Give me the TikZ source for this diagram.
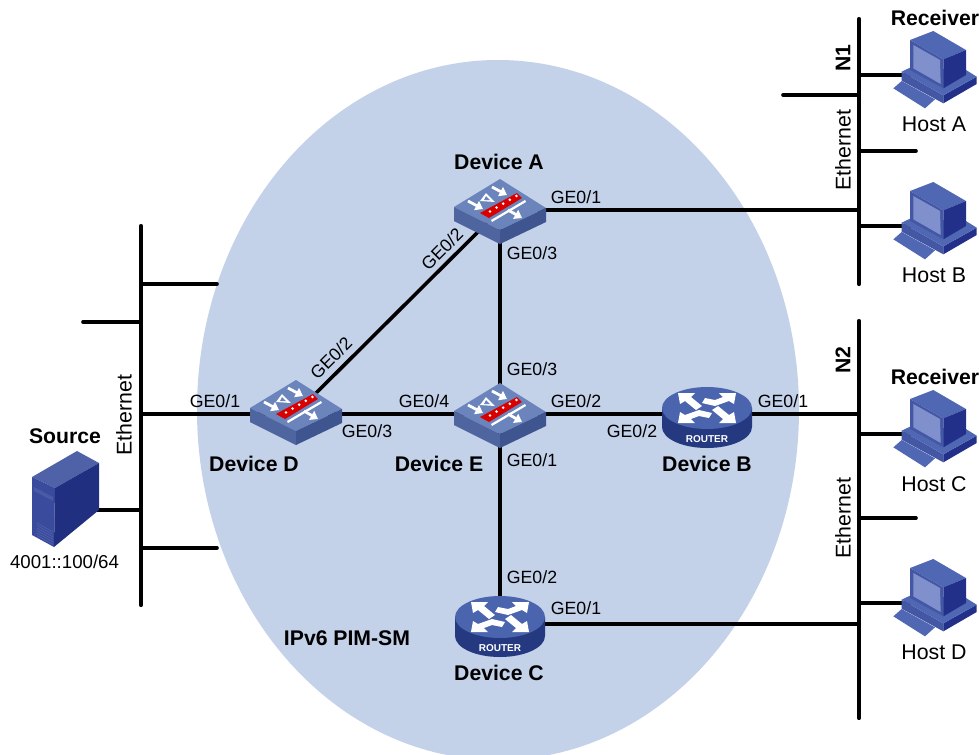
\documentclass[tikz,border=0pt]{standalone}
\usepackage{fontspec}
\setmainfont{Liberation Sans}
\usetikzlibrary{arrows.meta}
\definecolor{swtop}{HTML}{6B84BC}
\definecolor{swleft}{HTML}{4F659F}
\definecolor{swright}{HTML}{3F5590}
\definecolor{rttop}{HTML}{4A64AE}
\definecolor{rtside}{HTML}{24397F}
\definecolor{hostmid}{HTML}{4357A4}
\definecolor{hostdeep}{HTML}{22308A}
\definecolor{hostlight}{HTML}{5068B4}
\definecolor{hostscreen}{HTML}{7F90CC}
\definecolor{srvfront}{HTML}{3A4A9C}
\definecolor{srvside}{HTML}{212F80}
\definecolor{srvtop}{HTML}{4F62A8}
\definecolor{cloudblue}{HTML}{C3D1E9}
\tikzset{
  x=0.75pt,y=-0.75pt,
  bus/.style={line width=3.1pt,black,line cap=round},
  wire/.style={line width=2.7pt,black,line cap=round},
  lab/.style={font=\fontsize{13.3}{15}\selectfont,inner sep=0pt,text=black},
  biglab/.style={font=\fontsize{16}{18}\selectfont,inner sep=0pt,text=black},
  addrlab/.style={font=\fontsize{14}{16}\selectfont,inner sep=0pt,text=black},
  devname/.style={font=\bfseries\fontsize{15.9}{18}\selectfont,inner sep=0pt,text=black},
  anchorbox/.style={inner sep=0pt,minimum width=69pt,minimum height=45pt},
  swarrow/.style={white,line width=2.1pt,-{Triangle[length=5.5pt,width=7.5pt]}},
  pics/switchicon/.style={code={
    \fill[swtop] (0,-29)--(46,0)--(0,22)--(-46,-1)--cycle;
    \fill[swleft] (-46,-1)--(0,22)--(0,36)--(-46,13)--cycle;
    \fill[swright] (46,0)--(0,22)--(0,36)--(46,14)--cycle;
    \fill[red!85!black] (-20,5)--(17,-15)--(22,-10)--(-11,10)--cycle;
    \foreach \i in {0,...,4}{\fill[white] (-10+\i*6.6,3.5-\i*3.9) circle[radius=1.1pt];}
    \fill[white] (-9,12)--(25,-8)--(26,-6)--(-8,14)--cycle;
    \draw[swarrow] (-32,-7)--(-17,1);
    \draw[swarrow] (-8,-21)--(7,-13);
    \draw[swarrow] (8,2)--(22,10);
    \fill[white] (-20,-7)--(-14,-15)--(-5,-6)--cycle;
    \fill[swtop] (-16,-8)--(-14,-12)--(-10,-8)--cycle;
  }},
  pics/routericon/.style={code={
    \fill[rtside] (-45,0)--(-45,19) arc[start angle=180,end angle=0,x radius=45,y radius=21]--(45,0)--cycle;
    \fill[rttop] (0,0) ellipse[x radius=45,y radius=21];
    \node[font=\bfseries\fontsize{7.5}{8}\selectfont,text=white,inner sep=0pt] (#1) at (0,31) {ROUTER};
    \foreach \s in {1,-1}{
      \begin{scope}[xscale=\s,yscale=\s]
        \fill[white] (-29,-15)--(-12,-15)--(-16,-11)--(-5,-2)--(-11,2)--(-22,-7)--(-27,-4)--cycle;
        \fill[white] (29,-15)--(12,-15)--(16,-11)--(8,-8)--(-2,-10)--(-5,-5)--(8,-2)--(22,-7)--(27,-4)--cycle;
      \end{scope}}
  }},
  pics/hosticon/.style={code={
    \begin{scope}[x=0.25pt,y=-0.25pt,shift={(-135,-165)}]
      \fill[hostlight] (40,205)--(65,183)--(165,238)--(135,265)--cycle;
      \fill[hostmid] (65,155)--(190,226)--(190,250)--(65,182)--cycle;
      \fill[hostdeep] (190,226)--(290,170)--(290,192)--(190,250)--cycle;
      \fill[hostlight] (65,155)--(90,143)--(258,150)--(290,170)--(190,226)--cycle;
      \fill[hostlight] (90,60)--(160,33)--(258,90)--(190,118)--cycle;
      \fill[hostdeep] (190,118)--(258,90)--(258,165)--(190,205)--cycle;
      \fill[hostmid] (90,60)--(190,118)--(190,205)--(90,150)--cycle;
      \fill[hostscreen] (100,75)--(180,120)--(182,192)--(100,145)--cycle;
    \end{scope}
  }},
}
\begin{document}
\begin{tikzpicture}
\useasboundingbox (0,0) rectangle (979,754);
\begin{scope}
  \clip (0,0) rectangle (979,754);
  \fill[cloudblue] (498,410) ellipse[x radius=301,y radius=350];
\end{scope}
% anchors
\node[anchorbox] (devA) at (500,210) {};
\node[anchorbox] (devD) at (295,414) {};
\node[anchorbox] (devE) at (500,414) {};
\node[anchorbox] (devB) at (707,414) {};
\node[anchorbox] (devC) at (500,624) {};
\node[inner sep=0pt,minimum size=1pt] (srv) at (66,510) {};
\coordinate (hA) at (925,75);
\coordinate (hB) at (925,226);
\coordinate (hC) at (925,434);
\coordinate (hD) at (925,603);
\coordinate (LT) at (141,226); \coordinate (LB) at (141,605);
\coordinate (NT) at (859,19);  \coordinate (NB) at (859,284);
\coordinate (MT) at (859,321); \coordinate (MB) at (859,718);
\coordinate (L1) at (217,284); \coordinate (L1a) at (141,284);
\coordinate (L2) at (83,322);  \coordinate (L2a) at (141,322);
\coordinate (L3) at (217,548); \coordinate (L3a) at (141,548);
\coordinate (L4) at (141,414); \coordinate (L5) at (141,510);
\coordinate (R1) at (783,95);  \coordinate (R1a) at (859,95);
\coordinate (R2) at (916,151); \coordinate (R2a) at (859,151);
\coordinate (R3a) at (859,75); \coordinate (R4a) at (859,226);
\coordinate (R5) at (859,210);
\coordinate (S1) at (859,414); \coordinate (S2a) at (859,434);
\coordinate (S3) at (916,518); \coordinate (S3a) at (859,518);
\coordinate (S4a) at (859,603); \coordinate (S5) at (859,624);
% wires
\draw[bus] (LT)--(LB);
\draw[bus] (NT)--(NB);
\draw[bus] (MT)--(MB);
\draw[wire] (L1a)--(L1);
\draw[wire] (L2)--(L2a);
\draw[wire] (L3a)--(L3);
\draw[wire] (L4)--(devD.center);
\draw[wire] (srv.center)--(L5);
\draw[wire] (R1)--(R1a);
\draw[wire] (R2a)--(R2);
\draw[wire] (R3a)--(hA);
\draw[wire] (R4a)--(hB);
\draw[wire] (devA.center)--(R5);
\draw[wire] (devA.center)--(devD.center);
\draw[wire] (devA.center)--(devE.center);
\draw[wire] (devD.center)--(devE.center);
\draw[wire] (devE.center)--(devB.center);
\draw[wire] (devE.center)--(devC.center);
\draw[wire] (devB.center)--(S1);
\draw[wire] (S2a)--(hC);
\draw[wire] (S3a)--(S3);
\draw[wire] (S4a)--(hD);
\draw[wire] (devC.center)--(S5);
% icons
\pic at (500,208) {switchicon};
\pic at (296,409) {switchicon};
\pic at (500,412) {switchicon};
\pic at (707,408) {routericon=rb};
\pic at (500,617) {routericon=rc};
\pic at (hA) {hosticon};
\pic at (hB) {hosticon};
\pic at (hC) {hosticon};
\pic at (hD) {hosticon};
% server
\fill[srvtop] (32,477)--(77,451)--(99,463)--(55,488)--cycle;
\fill[srvfront] (32,477)--(55,488)--(54,547)--(32,535)--cycle;
\fill[srvside] (55,488)--(99,463)--(99,510)--(54,547)--cycle;
\fill[srvtop!70!srvfront] (34,487)--(53,497)--(53,501)--(34,491)--cycle;
\foreach \d in {0,2.5,5,7.5,10,12.5}{\draw[srvtop,line width=0.5pt] (37,{523+\d})--(53,{532+\d});}
% labels
\node[devname] at (499,162) {Device A};
\node[devname] at (254,464) {Device D};
\node[devname] at (439,464) {Device E};
\node[devname] at (707,464) {Device B};
\node[devname] at (499,673) {Device C};
\node[devname] at (65,436) {Source};
\node[devname] at (935,18) {Receiver};
\node[devname] at (935,377) {Receiver};
\node[devname] at (347,638) {IPv6 PIM-SM};
\node[devname,rotate=90] at (843,58) {N1};
\node[devname,rotate=90] at (843,360) {N2};
\node[biglab,rotate=90] at (843,150) {Ethernet};
\node[biglab,rotate=90] at (843,518) {Ethernet};
\node[biglab,rotate=90] at (124,415) {Ethernet};
\node[biglab] at (934,124) {Host A};
\node[biglab] at (934,275) {Host B};
\node[biglab] at (934,484) {Host C};
\node[biglab] at (934,652) {Host D};
\node[addrlab] at (64.5,562) {4001::100/64};
\node[lab] at (576,197) {GE0/1};
\node[lab] at (532,253) {GE0/3};
\node[lab,rotate=45] at (442,249) {GE0/2};
\node[lab,rotate=45] at (331,358) {GE0/2};
\node[lab] at (532,369) {GE0/3};
\node[lab] at (215,401) {GE0/1};
\node[lab] at (367,431) {GE0/3};
\node[lab] at (424,401) {GE0/4};
\node[lab] at (576,401) {GE0/2};
\node[lab] at (632,431) {GE0/2};
\node[lab] at (783,401) {GE0/1};
\node[lab] at (532,460) {GE0/1};
\node[lab] at (532,577) {GE0/2};
\node[lab] at (576,608) {GE0/1};
\end{tikzpicture}
\end{document}
